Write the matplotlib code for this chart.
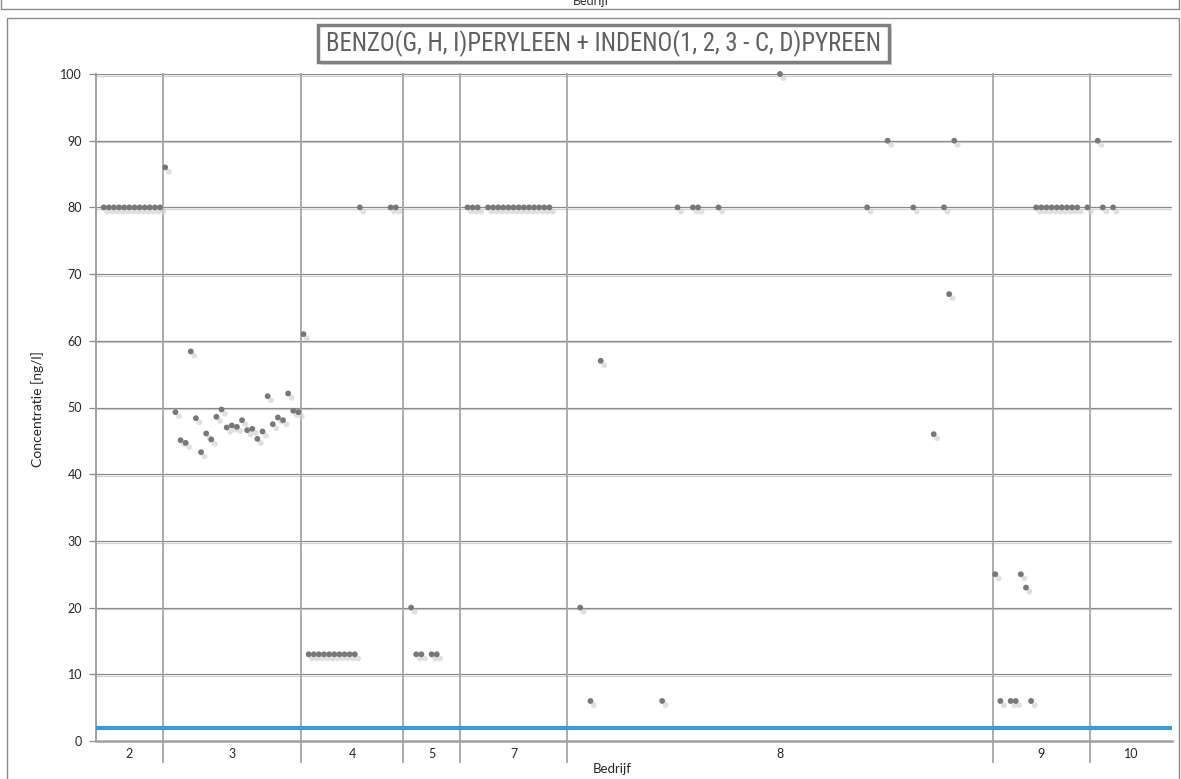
import matplotlib
matplotlib.use('Agg')
import matplotlib.pyplot as plt
import matplotlib.patheffects as pe
import matplotlib.transforms as mtransforms
from matplotlib.lines import Line2D
from matplotlib.patches import Rectangle
from matplotlib import font_manager

# ---------------- data ----------------
groups = ['2', '3', '4', '5', '7', '8', '9', '10']

g2 = [None, 80, 80, 80, 80, 80, 80, 80, 80, 80, 80, 80, 80]
g3 = [86, None, 49.3, 45.1, 44.7, 58.4, 48.4, 43.3, 46.1, 45.2, 48.6, 49.7,
      47.0, 47.3, 47.1, 48.1, 46.6, 46.8, 45.3, 46.4, 51.7, 47.5, 48.5, 48.1,
      52.1, 49.5, 49.3]
g4 = [61, 13, 13, 13, 13, 13, 13, 13, 13, 13, 13, 80, None, None, None, None,
      None, 80, 80, None]
g5 = [None, 20, 13, 13, None, 13, 13, None, None, None, None]
g7 = [None, 80, 80, 80, None, 80, 80, 80, 80, 80, 80, 80, 80, 80, 80, 80, 80,
      80, None, None, None]
g8 = [None, None, 20, None, 6, None, 57, None, None, None,
      None, None, None, None, None, None, None, None, 6, None,
      None, 80, None, None, 80, 80, None, None, None, 80,
      None, None, None, None, None, None, None, None, None, None,
      None, 100, None, None, None, None, None, None, None, None,
      None, None, None, None, None, None, None, None, 80, None,
      None, None, 90, None, None, None, None, 80, None, None,
      None, 46, None, 80, 67, 90, None, None, None, None,
      None, None, None]
g9 = [25, 6, None, 6, 6, 25, 23, 6, 80, 80, 80, 80, 80, 80, 80, 80, 80, None, 80]
g10 = [None, 90, 80, None, 80, None, None, None, None, None, None, None, None,
       None, None, None]

series = [g2, g3, g4, g5, g7, g8, g9, g10]
norm_value = 2
yticks = [0, 10, 20, 30, 40, 50, 60, 70, 80, 90, 100]

title = 'BENZO(G, H, I)PERYLEEN + INDENO(1, 2, 3 - C, D)PYREEN'
xlabel = 'Bedrijf'
ylabel = 'Concentratie [ng/l]'

# ---------------- figure ----------------
W, H = 1181, 779
fig = plt.figure(figsize=(W / 100, H / 100), dpi=100)
fig.patch.set_facecolor('white')

names = {f.name for f in font_manager.fontManager.ttflist}
narrow = [n for n in ['Liberation Sans Narrow', 'Roboto Condensed', 'Roboto'] if n in names]
FONT = narrow + ['DejaVu Sans']
TFONT = ['Lato', 'DejaVu Sans']

ax = fig.add_axes([96 / W, 1 - 741 / H, (1172 - 96) / W, (741 - 74) / H])

xs, ys = [], []
bounds = []
centers = []
idx = 0
for vals in series:
    start = idx
    for v in vals:
        if v is not None:
            xs.append(idx)
            ys.append(v)
        idx += 1
    bounds.append(idx - 0.5)
    centers.append((start + idx - 1) / 2)
N = idx

ax.set_xlim(-0.5, N - 0.5)
ax.set_ylim(0, 100)

# horizontal gridlines with light shadow
for yt in yticks[1:]:
    ax.axhline(yt, color='#8a8a8a', lw=0.9, zorder=1,
               path_effects=[pe.SimpleLineShadow(offset=(0, -1.2), shadow_color='#d3d3d3', alpha=1),
                             pe.Normal()])

# group separators, extending through the label row
trans = mtransforms.blended_transform_factory(ax.transData, ax.transAxes)
for b in bounds[:-1]:
    ax.add_line(Line2D([b, b], [1, -0.032], transform=trans, color='#a6a6a6', lw=1.3,
                       clip_on=False, zorder=1))

# norm line
ax.plot([-0.5, N - 0.5], [norm_value, norm_value], color='#3d9bd8', lw=3.0,
        solid_capstyle='butt', zorder=3)

# data points with soft shadow
ax.plot(xs, ys, 'o', ms=4.2, color='#787878', mec='none', zorder=5, clip_on=False,
        path_effects=[pe.SimplePatchShadow(offset=(2.5, -3), shadow_rgbFace='#d4d4d4', alpha=0.7),
                      pe.Normal()])

# axes styling
for s in ['top', 'right']:
    ax.spines[s].set_visible(False)
ax.spines['left'].set_color('#a0a0a0')
ax.spines['left'].set_linewidth(1.4)
ax.spines['bottom'].set_color('#a0a0a0')
ax.spines['bottom'].set_linewidth(1.8)

ax.set_yticks(yticks)
ax.set_yticklabels([str(t) for t in yticks], family=TFONT, fontsize=9, color='#262626')
ax.tick_params(axis='y', length=5, width=0.9, color='#8e8e8e', pad=5)
ax.set_xticks(centers)
ax.set_xticklabels(groups, family=TFONT, fontsize=9, color='#262626')
ax.tick_params(axis='x', length=0, pad=5)

fig.text(612 / W, 1 - 769 / H, xlabel, ha='center', va='center', family=TFONT,
         fontsize=9.5, color='#262626')
fig.text(38 / W, 1 - 409 / H, ylabel, ha='center', va='center', rotation=90,
         family=TFONT, fontsize=10, color='#262626')

# title box
box = Rectangle((318 / W, 1 - 62 / H), (889 - 318) / W, (62 - 25) / H,
                transform=fig.transFigure, fc='white', ec='#7f7f7f', lw=2.5,
                path_effects=[pe.SimplePatchShadow(offset=(2, -2.5), shadow_rgbFace='#a8a8a8', alpha=0.45),
                              pe.Normal()], zorder=2)
fig.add_artist(box)
t = fig.text(603 / W, 1 - 44 / H, title, ha='center', va='center', family=FONT,
             fontsize=16, color='#606060', zorder=3)
fig.canvas.draw()
wpx = t.get_window_extent().width
t.set_fontsize(16 * 558 / wpx)

# chart area frame
def fline(xp, yp, **kw):
    fig.add_artist(Line2D([x / W for x in xp], [1 - y / H for y in yp],
                          transform=fig.transFigure, **kw))

fline([7, 7, 1179, 1179], [779, 18, 18, 779], color='#8a8a8a', lw=1)
# bottom of the previous chart above
fline([1, 1, 1179, 1179], [0, 9, 9, 0], color='#8a8a8a', lw=1)
fig.text(591 / W, 1 - 5 / H, xlabel, ha='center', va='baseline', family=TFONT,
         fontsize=9, color='#303030')

fig.savefig('out.png', dpi=100, facecolor='white')
